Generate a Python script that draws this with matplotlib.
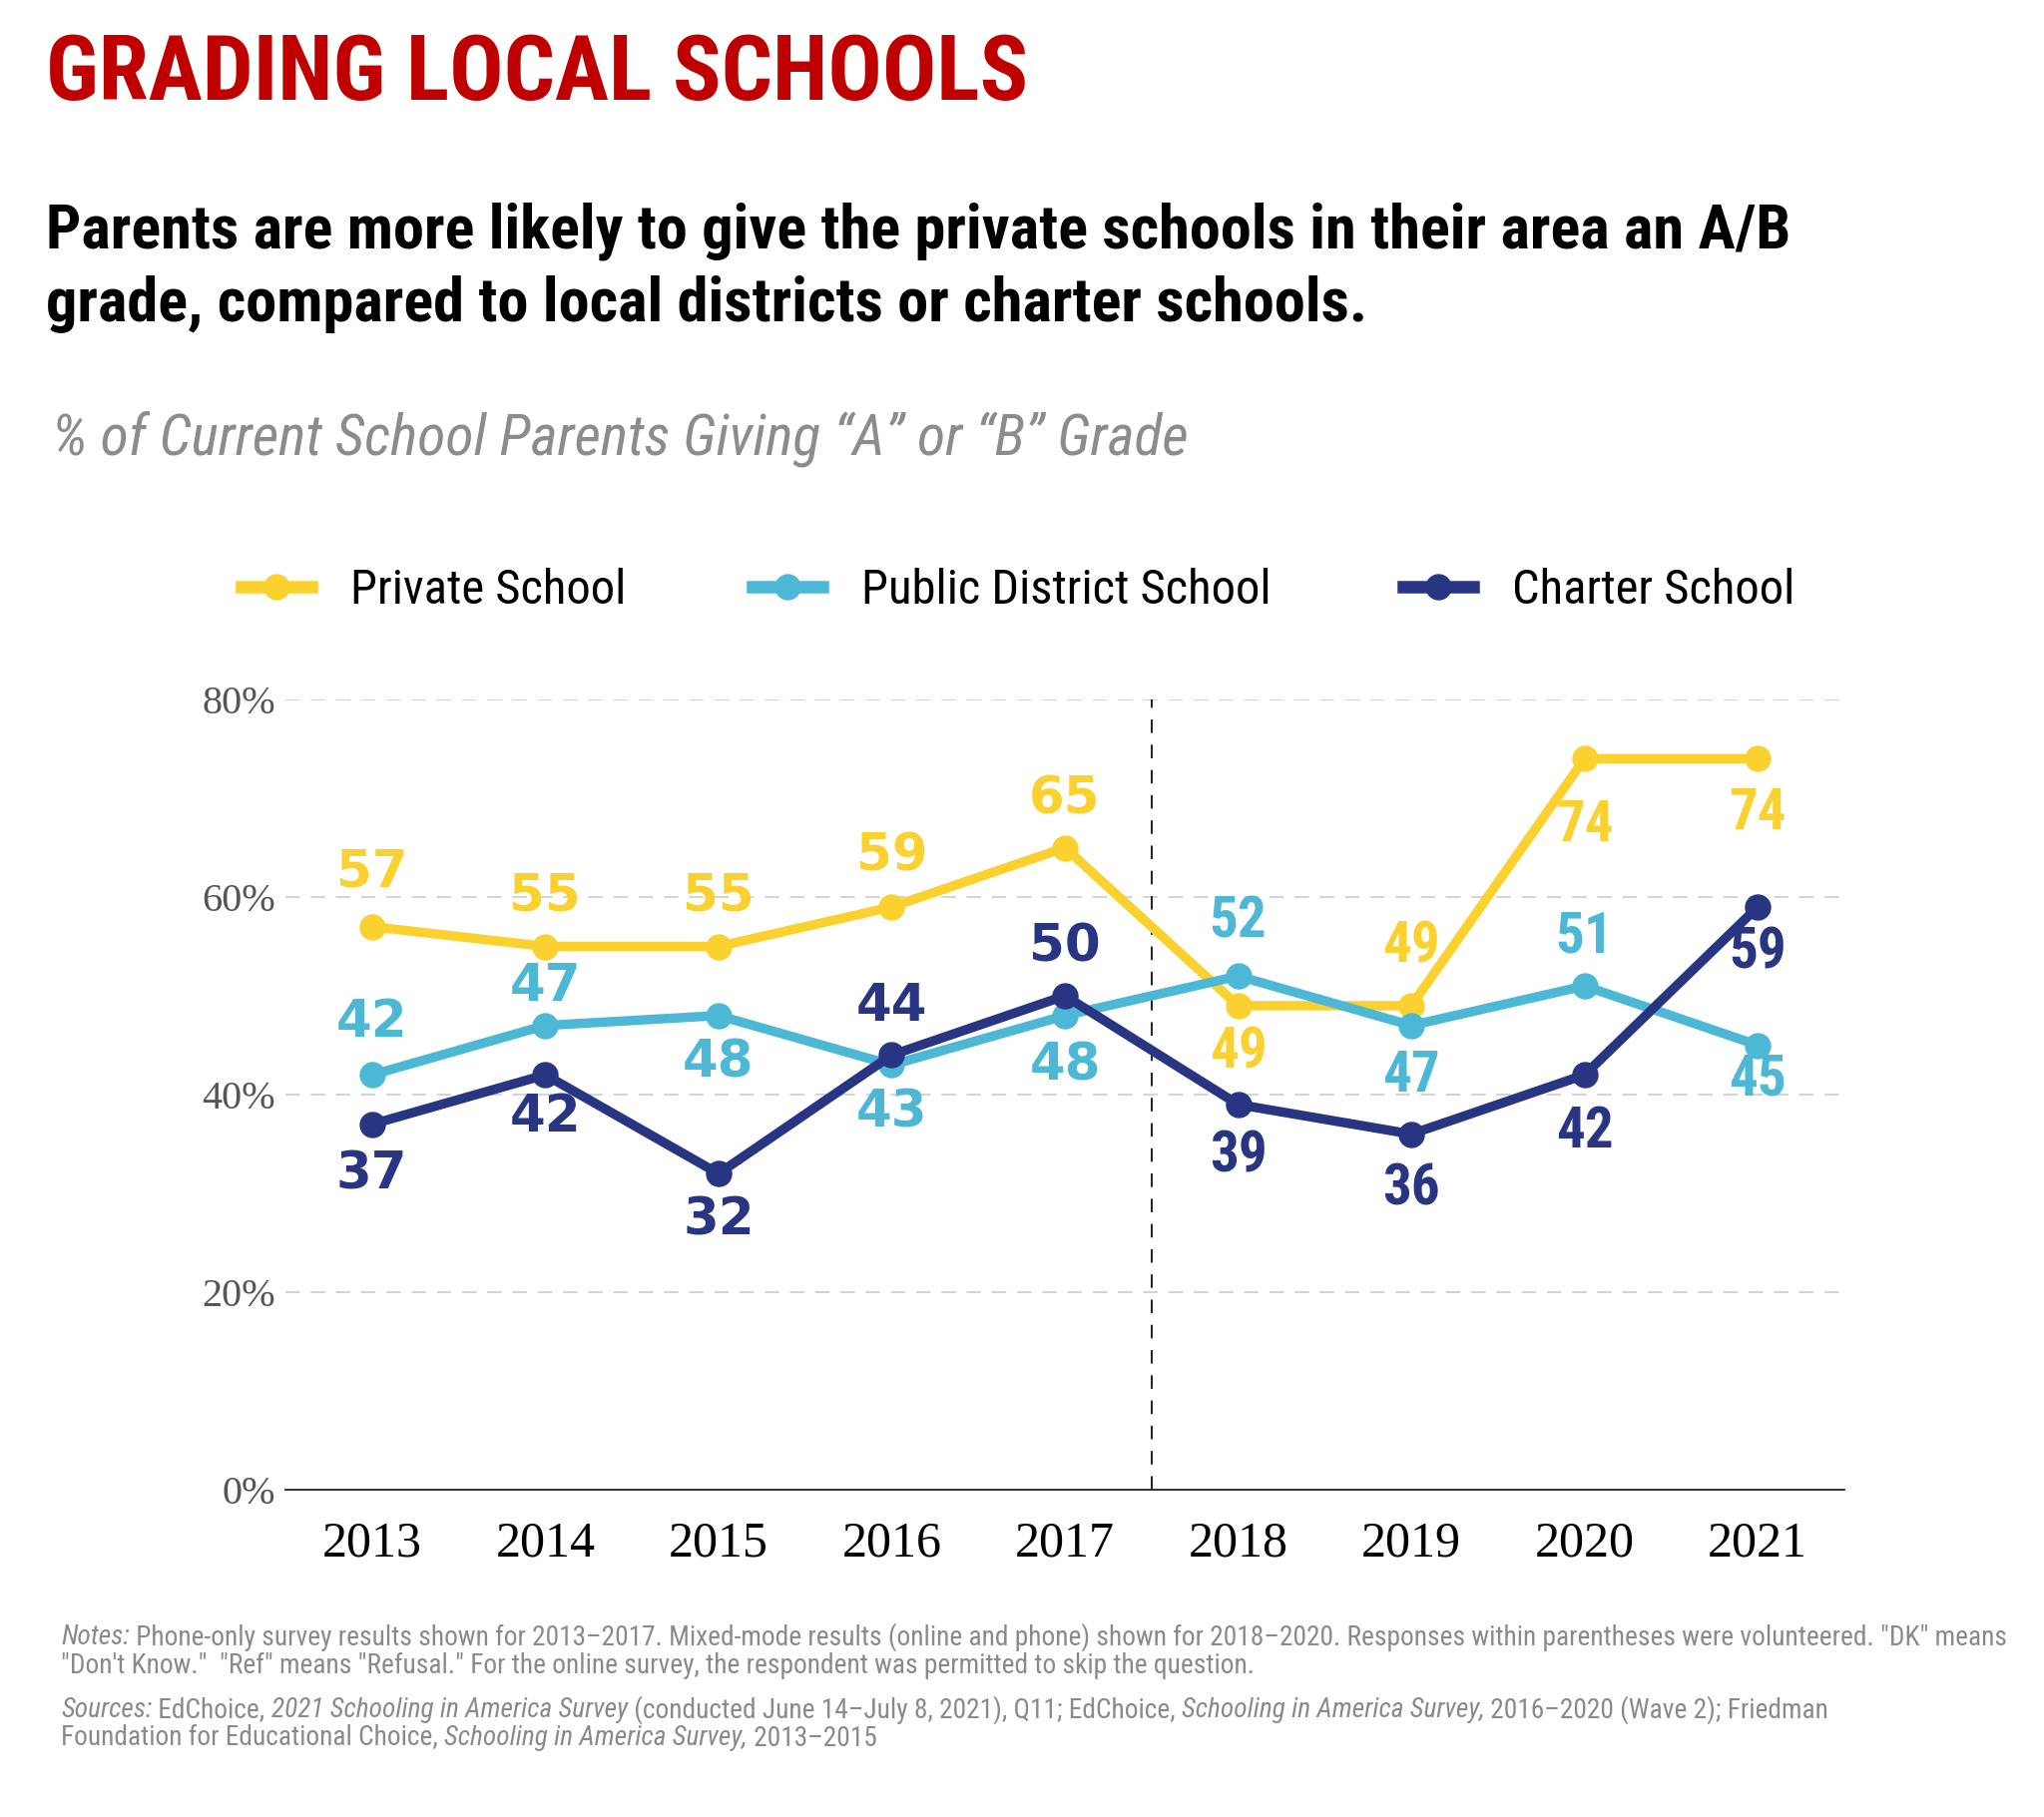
import matplotlib
matplotlib.use("Agg")
import matplotlib.pyplot as plt
from matplotlib import font_manager
from matplotlib.lines import Line2D

years = [2013, 2014, 2015, 2016, 2017, 2018, 2019, 2020, 2021]
private = [57, 55, 55, 59, 65, 49, 49, 74, 74]
public = [42, 47, 48, 43, 48, 52, 47, 51, 45]
charter = [37, 42, 32, 44, 50, 39, 36, 42, 59]
series_names = ["Private School", "Public District School", "Charter School"]
y_ticks = [0, 20, 40, 60, 80]

# label offsets in pixels (negative = above the point)
private_off = [-54, -50, -50, -50, -48, 47, -59, 67, 55]
public_off = [-52, -39, 48, 48, 51, -54, 51, -49, 35]
charter_off = [51, 43, 47, -48, -49, 52, 55, 57, 46]

YELLOW = "#FBD130"
CYAN = "#4DB8D6"
NAVY = "#283583"
RED = "#C00000"

# pick a condensed sans if one is around
fonts = font_manager.fontManager.ttflist
names = {f.name for f in fonts}
NARROW = {"family": "DejaVu Sans"}
for cand in ["Liberation Sans Narrow", "Roboto Condensed", "Open Sans Condensed"]:
    if cand in names:
        NARROW = {"family": cand}
        break
else:
    if any(f.name == "DejaVu Sans" and f.stretch == "condensed" for f in fonts):
        NARROW = {"family": "DejaVu Sans", "stretch": "condensed"}
    elif "Roboto" in names:
        NARROW = {"family": "Roboto"}

W, H, DPI = 2048, 1821, 100
fig = plt.figure(figsize=(W / DPI, H / DPI), dpi=DPI)
px = 72 / DPI  # one pixel in points
renderer = fig.canvas.get_renderer()


def fit_text(x, y, s, width, size, grow=1.12, **kw):
    t = fig.text(x / W, 1 - y / H, s, size=size, va="center", **NARROW, **kw)
    w = t.get_window_extent(renderer).width
    t.set_fontsize(min(size * grow, size * width / w))
    return t


fit_text(46, 75, "GRADING LOCAL SCHOOLS", 1012, 58, weight="bold", color=RED)
sub = fit_text(46, 232, "Parents are more likely to give the private schools in their area an A/B",
               1865, 40, weight="bold", color="black")
fig.text(46 / W, 1 - 305 / H, "grade, compared to local districts or charter schools.",
         size=sub.get_fontsize(), weight="bold", color="black", va="center", **NARROW)
fit_text(52, 440, "% of Current School Parents Giving \u201cA\u201d or \u201cB\u201d Grade",
         1139, 40, style="italic", color="#8C8C8C")

ax = fig.add_axes([286 / W, 1 - 1493 / H, (1848 - 286) / W, (1493 - 701) / H])

colors = [YELLOW, CYAN, NAVY]
data = [private, public, charter]
offs = [private_off, public_off, charter_off]

for vals, c, name in zip(data, colors, series_names):
    ax.plot(years, vals, color=c, lw=6.8, marker="o", ms=18, label=name,
            solid_joinstyle="round", solid_capstyle="round", clip_on=False, zorder=3)

for vals, c, off in zip(data, colors, offs):
    for yr, v, o in zip(years, vals, off):
        if yr <= 2017:
            fp = {"family": "DejaVu Sans", "size": 37}
        else:
            fp = dict(NARROW, size=41)
        ax.annotate(str(v), (yr, v), xytext=(0, -o * px), textcoords="offset points",
                    ha="center", va="center", weight="bold", color=c, zorder=4, **fp)

ax.set_xlim(2012.5, 2021.5)
ax.set_ylim(0, 80)
for g in y_ticks[1:]:
    ax.axhline(g, color="#D0D0D0", lw=1.3, dashes=(8, 6), zorder=1)
ax.plot([2017.5, 2017.5], [0, 80], color="#222222", lw=1.4, dashes=(7, 6), zorder=2)

for s in ["top", "right", "left"]:
    ax.spines[s].set_visible(False)
ax.spines["bottom"].set_color("#222222")
ax.spines["bottom"].set_linewidth(1.3)

ax.set_xticks(years)
ax.set_xticklabels([str(y) for y in years], family="Liberation Serif", size=36, color="black")
ax.set_yticks(y_ticks)
ax.set_yticklabels([f"{t}%" for t in y_ticks], family="Liberation Serif", size=29, color="#555555")
ax.tick_params(axis="x", length=0, pad=22)
ax.tick_params(axis="y", length=0, pad=7)

# legend: one entry per legend so each sits where the reference has it
leg_x = [242, 754, 1406]
leg_fs = 35
for c, name, lx in zip(colors, series_names, leg_x):
    h = Line2D([], [], color=c, lw=9, marker="o", ms=18)
    fig.legend([h], [name], loc="center left", bbox_to_anchor=(lx / W, 1 - 592 / H),
               frameon=False, borderpad=0, borderaxespad=0, handlelength=1.44,
               handletextpad=0.8, prop=dict(NARROW, size=leg_fs))


def rich_line(x, y, parts, size):
    x = x / W
    out = []
    for s, st in parts:
        t = fig.text(x, 1 - y / H, s, style=st, size=size, color="#8A8A8A", va="center", **NARROW)
        bb = t.get_window_extent(renderer)
        x = fig.transFigure.inverted().transform((bb.x1, bb.y0))[0]
        out.append(t)
    return out


n, i = "normal", "italic"
lines = [
    (1641, [("Notes:", i),
            (" Phone-only survey results shown for 2013\u20132017. Mixed-mode results (online and phone) shown for 2018\u20132020. Responses within parentheses were volunteered. \"DK\" means", n)]),
    (1669, [("\"Don't Know.\"  \"Ref\" means \"Refusal.\" For the online survey, the respondent was permitted to skip the question.", n)]),
    (1714, [("Sources:", i), (" EdChoice, ", n), ("2021 Schooling in America Survey", i),
            (" (conducted June 14\u2013July 8, 2021), Q11; EdChoice, ", n),
            ("Schooling in America Survey,", i), (" 2016\u20132020 (Wave 2); Friedman", n)]),
    (1742, [("Foundation for Educational Choice, ", n), ("Schooling in America Survey,", i),
            (" 2013\u20132015", n)]),
]

# size the notes so the first line spans nearly the same width as in the reference
probe = rich_line(61, lines[0][0], lines[0][1], 17.5)
span = probe[-1].get_window_extent(renderer).x1 - probe[0].get_window_extent(renderer).x0
for t in probe:
    t.remove()
note_size = min(17.5 * 1.16, 17.5 * (2008 - 61) / span)
for y, parts in lines:
    rich_line(61, y, parts, note_size)

fig.savefig("out.png", dpi=DPI)
